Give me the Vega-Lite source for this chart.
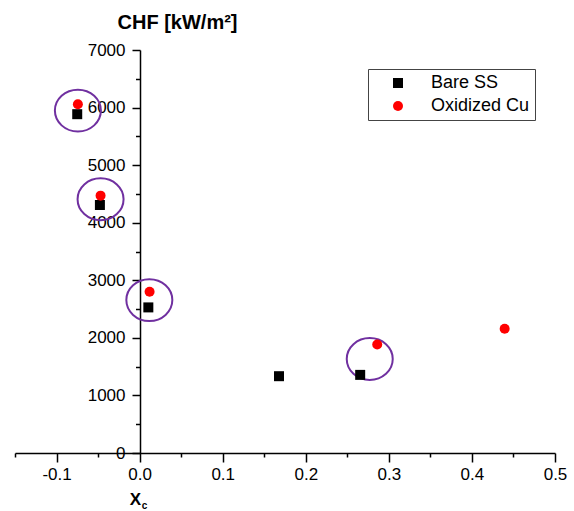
{
  "$schema": "https://vega.github.io/schema/vega-lite/v6.json",
  "width": 540,
  "height": 403,
  "autosize": "none",
  "padding": {"left": 15, "top": 50, "right": 19, "bottom": 58},
  "background": "white",
  "config": {
    "view": {"stroke": null},
    "font": "Liberation Sans",
    "axis": {
      "grid": false,
      "domainColor": "black",
      "tickColor": "black",
      "labelColor": "black",
      "titleColor": "black",
      "domainWidth": 1.5,
      "tickWidth": 1.5,
      "labelFont": "Liberation Sans",
      "titleFont": "Liberation Sans"
    }
  },
  "datasets": {
    "pts": [
      {"xc": -0.0751, "chf": 5885, "series": "Bare SS"},
      {"xc": -0.0478, "chf": 4308, "series": "Bare SS"},
      {"xc": 0.0105, "chf": 2529, "series": "Bare SS"},
      {"xc": 0.1678, "chf": 1334, "series": "Bare SS"},
      {"xc": 0.2655, "chf": 1357, "series": "Bare SS"},
      {"xc": -0.0743, "chf": 6059, "series": "Oxidized Cu"},
      {"xc": -0.047, "chf": 4470, "series": "Oxidized Cu"},
      {"xc": 0.012, "chf": 2800, "series": "Oxidized Cu"},
      {"xc": 0.286, "chf": 1885, "series": "Oxidized Cu"},
      {"xc": 0.4394, "chf": 2157, "series": "Oxidized Cu"}
    ],
    "rings": [
      {"xc": -0.0743, "chf": 5948},
      {"xc": -0.047, "chf": 4407},
      {"xc": 0.0117, "chf": 2656},
      {"xc": 0.277, "chf": 1633}
    ]
  },
  "layer": [
    {
      "data": {"name": "rings"},
      "mark": {
        "type": "point",
        "shape": "M-1,0A1,0.91,0,1,0,1,0A1,0.91,0,1,0,-1,0Z",
        "size": 2116,
        "filled": false,
        "stroke": "#7030a0",
        "strokeWidth": 2,
        "opacity": 1
      },
      "encoding": {
        "x": {
          "field": "xc",
          "type": "quantitative",
          "scale": {"domain": [-0.15, 0.5], "nice": false, "zero": false},
          "axis": {
            "orient": "bottom",
            "values": [-0.15, -0.05, 0.05, 0.15, 0.25, 0.35, 0.45],
            "labels": false,
            "tickSize": 4,
            "domain": false,
            "title": "c",
            "titleFontSize": 10,
            "titleFontWeight": "bold",
            "titleX": 129,
            "titleY": 55,
            "titleAlign": "center",
            "titleBaseline": "alphabetic"
          }
        },
        "y": {
          "field": "chf",
          "type": "quantitative",
          "scale": {"domain": [0, 7000], "nice": false},
          "axis": {
            "orient": "left",
            "offset": -125,
            "values": [500, 1500, 2500, 3500, 4500, 5500, 6500],
            "labels": false,
            "tickSize": 4.5,
            "domain": false,
            "title": null
          }
        }
      }
    },
    {
      "data": {"name": "pts"},
      "mark": {"type": "point", "filled": true, "size": 100, "opacity": 1},
      "encoding": {
        "x": {
          "field": "xc",
          "type": "quantitative",
          "axis": {
            "orient": "bottom",
            "values": [-0.1, 0, 0.1, 0.2, 0.3, 0.4, 0.5],
            "tickSize": 9,
            "labelExpr": "replace(format(datum.value, '.1f'), '\u2212', '-')",
            "labelFontSize": 17,
            "labelPadding": 4,
            "labelFlush": false,
            "labelOverlap": false,
            "title": "X",
            "titleFontSize": 17,
            "titleFontWeight": "bold",
            "titleX": 120,
            "titleY": 51,
            "titleAlign": "center",
            "titleBaseline": "alphabetic"
          }
        },
        "y": {
          "field": "chf",
          "type": "quantitative",
          "axis": {
            "orient": "left",
            "offset": -125,
            "values": [0, 1000, 2000, 3000, 4000, 5000, 6000, 7000],
            "tickSize": 8,
            "format": "d",
            "labelFontSize": 17,
            "labelPadding": 7,
            "labelFlush": false,
            "labelOverlap": false,
            "title": "CHF [kW/m²]",
            "titleAngle": 0,
            "titleFontSize": 20,
            "titleFontWeight": "bold",
            "titleX": 37,
            "titleY": -22,
            "titleAlign": "center",
            "titleBaseline": "alphabetic"
          }
        },
        "color": {
          "field": "series",
          "type": "nominal",
          "scale": {"domain": ["Bare SS", "Oxidized Cu"], "range": ["black", "#ff0000"]},
          "legend": {
            "title": null,
            "orient": "none",
            "legendX": 353,
            "legendY": 19,
            "strokeColor": "#444444",
            "fillColor": "white",
            "padding": 5,
            "labelFontSize": 18,
            "labelFont": "Liberation Sans",
            "labelColor": "black",
            "symbolSize": 100,
            "rowPadding": 5,
            "symbolOffset": 16,
            "labelOffset": 24,
            "symbolStrokeWidth": 0
          }
        },
        "shape": {
          "field": "series",
          "type": "nominal",
          "scale": {"domain": ["Bare SS", "Oxidized Cu"], "range": ["square", "circle"]}
        }
      }
    }
  ],
  "resolve": {"axis": {"x": "independent", "y": "independent"}}
}
